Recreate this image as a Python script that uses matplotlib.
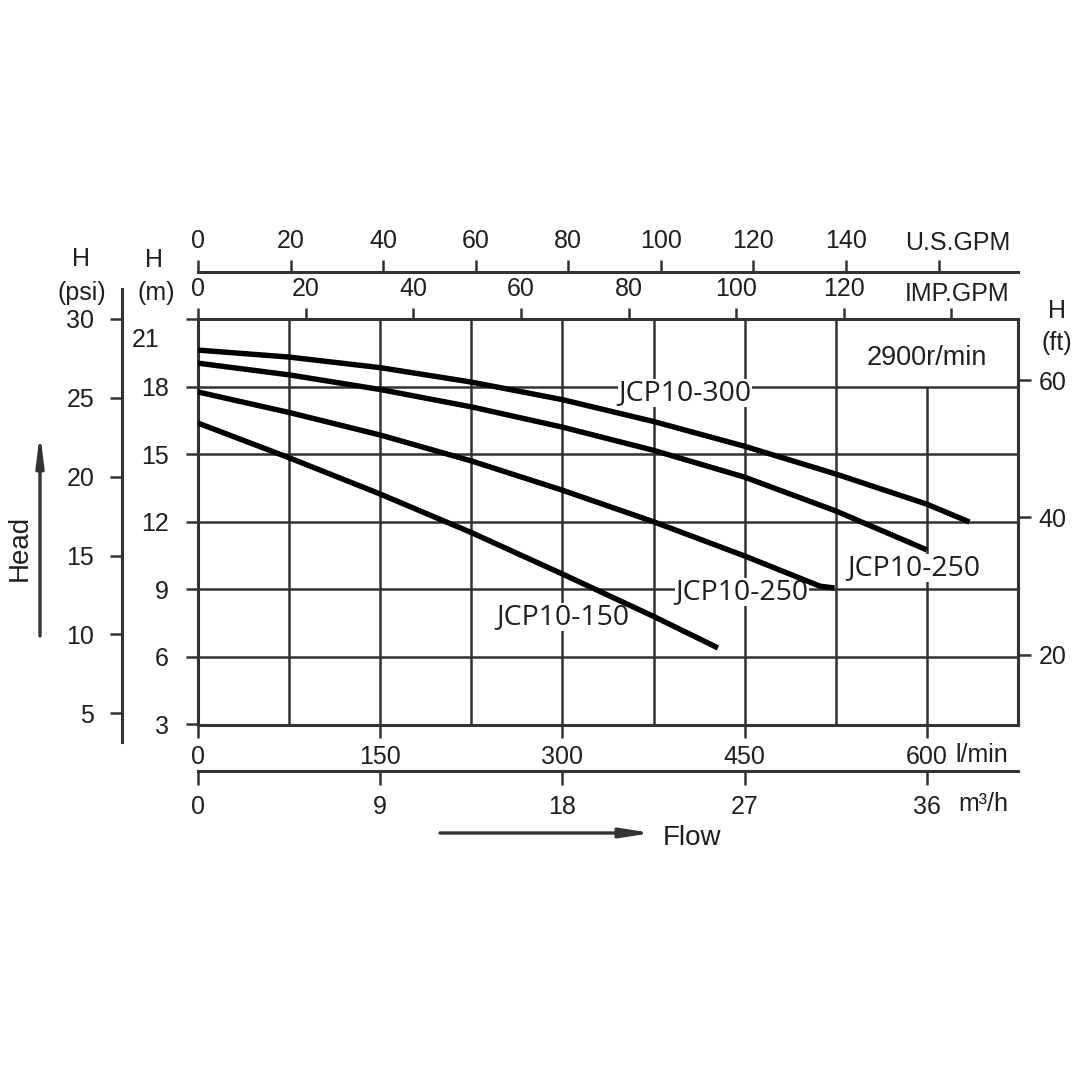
import matplotlib
matplotlib.use("Agg")
import numpy as np
import matplotlib.pyplot as plt

plt.rcParams['font.family'] = ['Liberation Sans', 'DejaVu Sans']

# =====================================================
# DATA (flow in l/min, head in m)
# =====================================================

flow_300 = [0, 75, 150, 225, 300, 375, 450, 525, 600, 635]
head_300 = [19.62, 19.31, 18.84, 18.20, 17.42, 16.45, 15.35, 14.12, 12.78, 11.99]

flow_250a = [0, 75, 150, 225, 300, 375, 450, 525, 600]
head_250a = [19.04, 18.52, 17.87, 17.10, 16.20, 15.17, 13.98, 12.48, 10.75]

flow_250b = [0, 75, 150, 225, 300, 375, 450, 512, 524]
head_250b = [17.76, 16.85, 15.85, 14.70, 13.40, 12.00, 10.48, 9.14, 9.06]

flow_150 = [0, 75, 150, 225, 300, 375, 428]
head_150 = [16.38, 14.84, 13.23, 11.52, 9.68, 7.80, 6.40]

curve_names = ["JCP10-300", "JCP10-250", "JCP10-250", "JCP10-150"]
name_x = [401, 589, 448, 300]
name_y = [17.71, 9.95, 8.88, 7.77]

speed_text = "2900r/min"

# =====================================================
# AXIS TICKS
# =====================================================

m_ticks = [3, 6, 9, 12, 15, 18, 21]
psi_ticks = [5, 10, 15, 20, 25, 30]
ft_ticks = [20, 40, 60]
lmin_ticks = [0, 150, 300, 450, 600]
m3h_ticks = [0, 9, 18, 27, 36]
us_ticks = [0, 20, 40, 60, 80, 100, 120, 140, 160]
imp_ticks = [0, 20, 40, 60, 80, 100, 120, 140]

# unit factors as drawn on the chart
M_PER_PSI = 0.70
M_PER_FT = 0.3048
L_PER_US = 3.81
L_PER_IMP = 4.43
M3H_PER_LMIN = 0.06

TXT = '#1f1f1f'
LN = '#333333'
FS = 18

# =====================================================
# FIGURE
# =====================================================

W = 1080.0
fig = plt.figure(figsize=(10.8, 10.8), dpi=100)
ax = fig.add_axes([198 / W, (W - 724.5) / W, 820 / W, 405.5 / W])
ax.set_xlim(0, 675)
ax.set_ylim(3, 21)

for s in ax.spines.values():
    s.set_linewidth(2.2)
    s.set_color(LN)

# grid
ax.vlines(np.arange(75, 600, 75), 3, 21, color=LN, lw=1.8, zorder=1)
ax.vlines(600, 3, 18, color=LN, lw=1.8, zorder=1)
ax.hlines(np.arange(6, 21, 3), 0, 675, color=LN, lw=1.8, zorder=1)

# curves
for fx, hy in [(flow_300, head_300), (flow_250a, head_250a),
               (flow_250b, head_250b), (flow_150, head_150)]:
    ax.plot(fx, hy, color='black', lw=3.9, solid_capstyle='butt',
            solid_joinstyle='round', zorder=5)

for name, x, y in zip(curve_names, name_x, name_y):
    ax.text(x, y, name, ha='center', va='center', fontsize=20.5,
            family=['Open Sans', 'DejaVu Sans'], color=TXT, zorder=4,
            bbox=dict(facecolor='white', edgecolor='none', pad=0.3))

ax.text(600, 19.27, speed_text, ha='center', va='center', fontsize=19.5,
        color=TXT)

# =====================================================
# MAIN AXES TICKS (m / l/min)
# =====================================================

ax.set_yticks(m_ticks)
ax.set_yticklabels([str(v) for v in m_ticks[:-1]] + [''])
ax.text(-0.047, 20.05, str(m_ticks[-1]), transform=ax.get_yaxis_transform(),
        ha='right', va='center', fontsize=FS, color=TXT)
ax.tick_params(axis='y', direction='out', length=9, width=1.8, color=LN,
               pad=12, labelsize=FS, labelcolor=TXT)

ax.set_xticks(lmin_ticks)
ax.set_xticklabels([str(v) for v in lmin_ticks])
ax.tick_params(axis='x', direction='out', length=9, width=1.8, color=LN,
               pad=6, labelsize=FS, labelcolor=TXT)

# =====================================================
# SECONDARY AXES
# =====================================================

psi = ax.secondary_yaxis(-76 / 820, functions=(lambda m: m / M_PER_PSI,
                                               lambda p: p * M_PER_PSI))
psi.set_yticks(psi_ticks)
psi.tick_params(direction='out', length=9, width=1.8, color=LN, pad=11,
                labelsize=FS, labelcolor=TXT)
psi.spines['left'].set_linewidth(2.2)
psi.spines['left'].set_color(LN)
psi.spines['left'].set_bounds(3.16, 31.9)

ft = ax.secondary_yaxis('right', functions=(lambda m: m / M_PER_FT,
                                            lambda f: f * M_PER_FT))
ft.set_yticks(ft_ticks)
ft.tick_params(direction='out', length=9, width=1.8, color=LN, pad=6,
               labelsize=FS, labelcolor=TXT)
ft.spines['right'].set_linewidth(2.2)
ft.spines['right'].set_color(LN)

m3h = ax.secondary_xaxis(-46 / 405.5, functions=(lambda l: l * M3H_PER_LMIN,
                                                 lambda q: q / M3H_PER_LMIN))
m3h.set_xticks(m3h_ticks)
m3h.tick_params(direction='out', length=10, width=1.8, color=LN, pad=8,
                labelsize=FS, labelcolor=TXT)
m3h.spines['bottom'].set_linewidth(2.2)
m3h.spines['bottom'].set_color(LN)

imp = ax.secondary_xaxis('top', functions=(lambda l: l / L_PER_IMP,
                                           lambda g: g * L_PER_IMP))
imp.set_xticks(imp_ticks)
imp.set_xticklabels([str(v) for v in imp_ticks[:-1]] + [''])
imp.tick_params(direction='out', length=8, width=1.8, color=LN, pad=5,
                labelsize=FS, labelcolor=TXT)
imp.spines['top'].set_visible(False)

us = ax.secondary_xaxis(452.5 / 405.5, functions=(lambda l: l / L_PER_US,
                                                  lambda g: g * L_PER_US))
us.set_xticks(us_ticks)
us.set_xticklabels([str(v) for v in us_ticks[:-1]] + [''])
us.tick_params(direction='out', length=9, width=1.8, color=LN, pad=5,
               labelsize=FS, labelcolor=TXT)
us.spines['top'].set_linewidth(2.2)
us.spines['top'].set_color(LN)

# =====================================================
# UNIT LABELS
# =====================================================

def ftext(x, y, s, size=FS, **kw):
    fig.text(x / W, 1 - y / W, s, ha='center', va='center', fontsize=size,
             color=TXT, **kw)

ftext(958, 243, "U.S.GPM")
ftext(957, 294, "IMP.GPM")
ftext(81, 259, "H")
ftext(82, 293, "(psi)")
ftext(154, 260, "H")
ftext(156, 293, "(m)")
ftext(1057, 311, "H")
ftext(1057, 343, "(ft)")
ftext(982, 755, "l/min")
ftext(983, 804, "m³/h")
ftext(692, 838, "Flow", size=20)
ftext(20, 548, "Head", size=20, rotation=90)

# arrows
ax.annotate('', xy=(40 / W, 1 - 432 / W), xytext=(40 / W, 1 - 636 / W),
            xycoords='figure fraction', textcoords='figure fraction',
            arrowprops=dict(arrowstyle='-|>,head_length=1.8,head_width=0.22',
                            lw=2.4, color=LN, shrinkA=0, shrinkB=0))
ax.annotate('', xy=(652 / W, 1 - 833 / W), xytext=(440 / W, 1 - 833 / W),
            xycoords='figure fraction', textcoords='figure fraction',
            arrowprops=dict(arrowstyle='-|>,head_length=1.8,head_width=0.28',
                            lw=2.4, color=LN, shrinkA=0, shrinkB=0))

fig.savefig("out.png", dpi=100, facecolor='white')
